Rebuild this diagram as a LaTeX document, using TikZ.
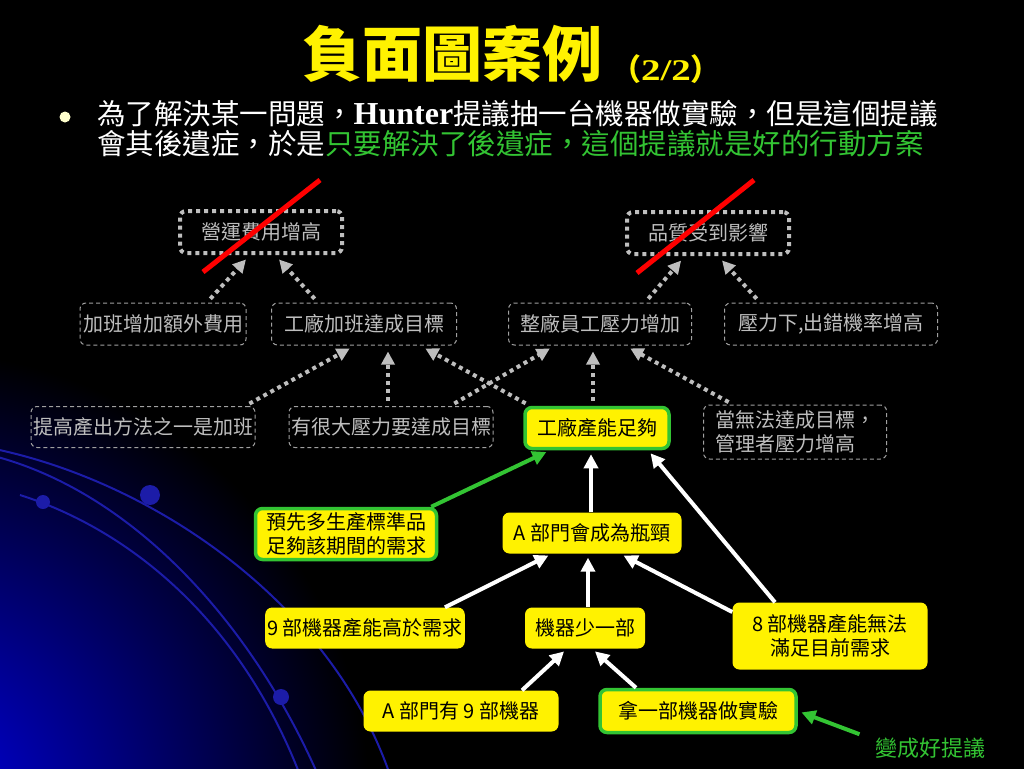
\documentclass[tikz,border=0pt]{standalone}
\usepackage{fontspec}
\setmainfont{Liberation Serif}
\newfontfamily\cjk{Noto Sans CJK TC}
\usetikzlibrary{arrows.meta}
\definecolor{darkgrey}{HTML}{A0A0A0}
\definecolor{textgrey}{HTML}{BEBEBE}
\definecolor{okgreen}{HTML}{33C433}
\definecolor{glowblue}{HTML}{0000E6}
\definecolor{arcblue}{HTML}{1C1CA8}
\definecolor{cream}{HTML}{FFFFCC}
\begin{document}
\begin{tikzpicture}[x=1pt,y=-1pt,
  effect/.style={draw=darkgrey, line width=1pt, dash pattern=on 4pt off 3pt, rounded corners=6pt, text=textgrey, font=\cjk\fontsize{20}{24}\selectfont, align=center, minimum height=42pt, inner sep=2pt},
  result/.style={effect, draw=textgrey, line width=4pt, dash pattern=on 4pt off 4pt},
  cause/.style={fill=yellow, rounded corners=7pt, text=black, font=\cjk\fontsize{20}{24}\selectfont, align=center, minimum height=41pt, inner sep=2pt},
  good/.style={cause, draw=okgreen, line width=3.5pt},
  greyarrow/.style={draw=textgrey, line width=4pt, dash pattern=on 4pt off 4pt, -{Triangle[length=13pt,width=13pt]}, shorten <=5pt, shorten >=6pt},
  whitearrow/.style={draw=white, line width=4pt, -{Triangle[length=14pt,width=14pt]}, shorten >=4pt},
  greenarrow/.style={whitearrow, draw=okgreen},
  strike/.style={draw=red, line width=5pt}]
\useasboundingbox (0,0) rectangle (1024,768);
\fill[black] (-6,-6) rectangle (1030,774);
\begin{scope}
\clip (-6,-6) rectangle (1030,774);
\shade[inner color=glowblue, outer color=black] (-90,810) circle (460);
\draw[arcblue, line width=2pt] (-10,448) .. controls (150,480) and (330,600) .. (390,775);
\draw[arcblue, line width=2pt] (-10,455) .. controls (130,490) and (250,620) .. (318,775);
\draw[arcblue, line width=2pt] (20,495) .. controls (130,530) and (240,620) .. (300,775);
\fill[arcblue] (150,495) circle (10);
\fill[arcblue] (43,502) circle (7);
\fill[arcblue] (281,697) circle (8);
\end{scope}
\node[anchor=base, text=yellow, font=\cjk\bfseries\fontsize{60}{60}\selectfont] (nid18) at (452,77) {負面圖案例};
\node[anchor=base, text=yellow, font=\cjk\bfseries\fontsize{30}{30}\selectfont, inner sep=0pt] (nid19) at (666,80) {（\scalebox{1.3}[1]{\rmfamily\fontsize{30}{30}\selectfont 2/2}）};
\node[circle, fill=cream, inner sep=0pt, minimum size=11pt] (nid21) at (65,117) {};
\node[anchor=north west, inner sep=0pt, align=left, text=white, font=\cjk\fontsize{28.5}{30}\selectfont] (nid20) at (97,100) {為了解決某一問題，{\rmfamily\bfseries\fontsize{32}{30}\selectfont Hunter}提議抽一台機器做實驗，但是這個提議\\會其後遺症，於是\textcolor{okgreen}{只要解決了後遺症，這個提議就是好的行動方案}};
\node[result, minimum width=162pt] (nid0) at (261,232) {營運費用增高};
\node[result, minimum width=162pt] (nid1) at (708,233) {品質受到影響};
\node[effect, minimum width=166pt] (nid2) at (163,324) {加班增加額外費用};
\node[effect, minimum width=185pt] (nid3) at (364,324) {工廠加班達成目標};
\node[effect, minimum width=183pt] (nid4) at (600,324) {整廠員工壓力增加};
\node[effect, minimum width=213pt] (nid5) at (831,324) {壓力下,出錯機率增高};
\node[effect, minimum width=219pt, minimum height=41pt] (nid6) at (143,427) {提高產出方法之一是加班};
\node[effect, minimum width=196pt, minimum height=41pt] (nid7) at (391,427) {有很大壓力要達成目標};
\node[effect, minimum width=183pt, minimum height=54pt, align=left] (nid8) at (795,432) {當無法達成目標，\\管理者壓力增高};
\node[good, minimum width=144pt] (nid9) at (597,428) {工廠產能足夠};
\node[good, minimum width=181pt, minimum height=51pt] (nid10) at (346,534) {預先多生產標準品\\足夠該期間的需求};
\node[cause, minimum width=179pt] (nid11) at (592,533) {A 部門會成為瓶頸};
\node[cause, minimum width=195pt] (nid12) at (365,628) {9 部機器產能高於需求};
\node[cause, minimum width=120pt] (nid13) at (585,628) {機器少一部};
\node[cause, minimum width=195pt, minimum height=67pt] (nid14) at (830,636) {8 部機器產能無法\\滿足目前需求};
\node[cause, minimum width=195pt] (nid15) at (461,711) {A 部門有 9 部機器};
\node[good, minimum width=196pt, minimum height=43pt] (nid16) at (698,711) {拿一部機器做實驗};
\node[text=okgreen, font=\cjk\fontsize{22}{24}\selectfont] (nid17) at (930,748) {變成好提議};
\draw[greyarrow] ([xshift=44pt]nid2.north) -- ([xshift=-11pt]nid0.south);
\draw[greyarrow] ([xshift=-46pt]nid3.north) -- ([xshift=14pt]nid0.south);
\draw[greyarrow] ([xshift=45pt]nid4.north) -- ([xshift=-23pt]nid1.south);
\draw[greyarrow] ([xshift=-71pt]nid5.north) -- ([xshift=10pt]nid1.south);
\draw[greyarrow] ([xshift=102pt]nid6.north) -- ([xshift=-9pt]nid3.south);
\draw[greyarrow] ([xshift=-3pt]nid7.north) -- ([xshift=24pt]nid3.south);
\draw[greyarrow] ([xshift=59pt]nid7.north) -- ([xshift=-45pt]nid4.south);
\draw[greyarrow] ([xshift=-67pt]nid9.north) -- ([xshift=56pt]nid3.south);
\draw[greyarrow] ([xshift=-4pt]nid9.north) -- ([xshift=-7pt]nid4.south);
\draw[greyarrow] ([xshift=-62pt]nid8.north) -- ([xshift=25pt]nid4.south);
\draw[whitearrow] ([xshift=-1pt]nid11.north) -- ([xshift=-6pt]nid9.south);
\draw[whitearrow] ([xshift=3pt]nid13.north) -- ([xshift=-4pt]nid11.south);
\draw[whitearrow] ([xshift=80pt]nid12.north) -- ([xshift=-40pt]nid11.south);
\draw[whitearrow] ([yshift=24pt]nid14.west) -- ([xshift=28pt]nid11.south);
\draw[whitearrow] ([xshift=-55pt]nid14.north) -- ([xshift=51pt]nid9.south);
\draw[whitearrow] ([xshift=61pt]nid15.north) -- ([xshift=-18pt]nid13.south);
\draw[whitearrow] ([xshift=-62pt]nid16.north) -- ([xshift=7pt]nid13.south);
\draw[greenarrow] ([xshift=-7pt]nid10.north east) -- ([xshift=-47pt]nid9.south);
\draw[greenarrow] ([xshift=-12pt]nid17.north west) -- (nid16.east);
\draw[strike] ([xshift=-58pt,yshift=-40pt]nid0.center) -- ([xshift=59pt,yshift=52pt]nid0.center);
\draw[strike] ([xshift=-71pt,yshift=-40pt]nid1.center) -- ([xshift=46pt,yshift=53pt]nid1.center);
\end{tikzpicture}
\end{document}
